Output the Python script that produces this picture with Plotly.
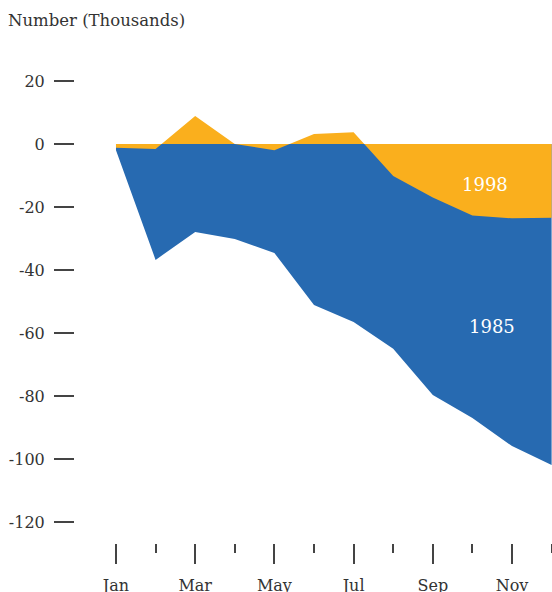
import plotly.graph_objects as go

months = ["Jan", "Feb", "Mar", "Apr", "May", "Jun", "Jul", "Aug", "Sep", "Oct", "Nov", "Dec"]
values_1985 = [-2.0, -36.8, -27.9, -30.2, -34.6, -51.1, -56.5, -65.0, -79.7, -87.0, -95.9, -101.9]
values_1998 = [-1.2, -1.6, 8.9, 0.0, -2.0, 3.2, 3.7, -10.2, -17.0, -22.7, -23.6, -23.4]
y_ticks = [20, 0, -20, -40, -60, -80, -100, -120]
y_tick_labels = [str(v) for v in y_ticks]
major_months = ["Jan", "Mar", "May", "Jul", "Sep", "Nov"]

x_idx = list(range(len(months)))
major_idx = [months.index(m) for m in major_months]
minor_idx = [i for i in x_idx if i not in major_idx]

BLUE = "#276AB1"
ORANGE = "#FAAF1D"
TEXT = "#333333"
TICK = "#444444"
FONT = "DejaVu Serif"

fig = go.Figure()
fig.add_trace(go.Scatter(x=x_idx, y=values_1985, mode="lines", fill="tozeroy",
                         line=dict(width=0, color=BLUE), fillcolor=BLUE,
                         hoverinfo="skip", showlegend=False))
fig.add_trace(go.Scatter(x=x_idx, y=values_1998, mode="lines", fill="tozeroy",
                         line=dict(width=0, color=ORANGE), fillcolor=ORANGE,
                         hoverinfo="skip", showlegend=False))

fig.add_annotation(x=9.32, y=-13, text="1998", showarrow=False,
                   font=dict(family=FONT, size=18, color="white"))
fig.add_annotation(x=9.5, y=-57.8, text="1985", showarrow=False,
                   font=dict(family=FONT, size=18, color="white"))

fig.update_layout(
    template="none",
    width=552, height=600,
    margin=dict(l=75, r=0, t=50, b=57, autoexpand=False),
    plot_bgcolor="white", paper_bgcolor="white",
    font=dict(family=FONT, size=16, color=TEXT),
    title=dict(text="Number (Thousands)", x=8/552, xanchor="left", xref="container",
               y=1-20/600, yanchor="middle", yref="container", pad=dict(l=0, t=0, b=0, r=0),
               font=dict(family=FONT, size=16.5, color=TEXT)),
    xaxis=dict(range=[-1.035, 11.01], showgrid=False, zeroline=False, showline=False,
               automargin=False,
               tickmode="array", tickvals=major_idx, ticktext=major_months,
               ticks="outside", ticklen=20, tickwidth=1.5, tickcolor=TICK,
               ticklabelstandoff=8,
               minor=dict(tickmode="array", tickvals=minor_idx, ticks="outside",
                          ticklen=9, tickwidth=1.5, tickcolor=TICK, showgrid=False)),
    yaxis=dict(range=[-126.67, 29.84], showgrid=False, zeroline=False, showline=False,
               automargin=False,
               tickmode="array", tickvals=y_ticks, ticktext=y_tick_labels,
               ticks="outside", ticklen=20, tickwidth=1.5, tickcolor=TICK,
               ticklabelstandoff=6),
)

fig.write_html(
    "out.html",
    config={"displayModeBar": False},
    post_script="document.body.style.margin='0';document.body.style.overflow='hidden';"
                "document.documentElement.style.overflow='hidden';",
)
